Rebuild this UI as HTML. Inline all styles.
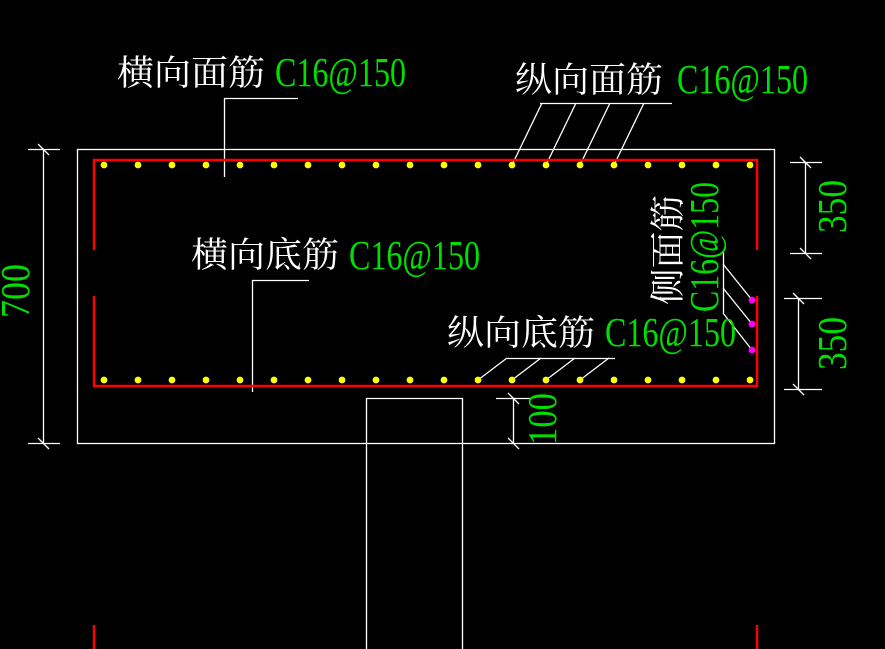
<!DOCTYPE html>
<html><head><meta charset="utf-8"><style>
html,body{margin:0;padding:0;background:#000;}
svg{display:block;}
.w{fill:#fff;font-family:"Liberation Serif","Noto Serif CJK SC","Noto Sans CJK SC",serif;font-size:35px;}
.g{fill:#00e000;font-family:"Liberation Serif",serif;font-size:41px;}
</style></head><body>
<svg width="885" height="649" viewBox="0 0 885 649" xmlns="http://www.w3.org/2000/svg">
<g stroke="#fff" stroke-width="1.3" fill="none">
<rect x="77.5" y="149.5" width="697" height="294"/>
<polyline points="366.5,649 366.5,398.5 462.5,398.5 462.5,649"/>
<line x1="43.5" y1="149" x2="43.5" y2="443"/>
<line x1="28" y1="149.5" x2="60" y2="149.5"/>
<line x1="28" y1="443.5" x2="60" y2="443.5"/>
<line x1="38" y1="144" x2="49" y2="155"/><line x1="38" y1="438" x2="49" y2="449"/>
<line x1="805.5" y1="162" x2="805.5" y2="253"/>
<line x1="790" y1="162.5" x2="822" y2="162.5"/>
<line x1="790" y1="253.5" x2="822" y2="253.5"/>
<line x1="800" y1="157" x2="811" y2="168"/><line x1="800" y1="248" x2="811" y2="259"/>
<line x1="798.5" y1="298" x2="798.5" y2="389"/>
<line x1="784" y1="298.5" x2="822" y2="298.5"/>
<line x1="784" y1="389.5" x2="822" y2="389.5"/>
<line x1="793" y1="293" x2="804" y2="304"/><line x1="793" y1="384" x2="804" y2="395"/>
<line x1="513.5" y1="398" x2="513.5" y2="443"/>
<line x1="496" y1="398.5" x2="530" y2="398.5"/>
<line x1="508" y1="393" x2="519" y2="404"/><line x1="508" y1="438" x2="519" y2="449"/>
<polyline points="224.5,177 224.5,98.5 298,98.5"/>
<polyline points="252.5,392 252.5,280.5 309,280.5"/>
<line x1="540" y1="103.5" x2="672" y2="103.5"/>
<line x1="512" y1="165" x2="542" y2="103"/><line x1="546" y1="165" x2="576" y2="103"/>
<line x1="580" y1="165" x2="610" y2="103"/><line x1="614" y1="165" x2="644" y2="103"/>
<line x1="507" y1="358.5" x2="615" y2="358.5"/>
<line x1="478" y1="380" x2="507" y2="358"/><line x1="512" y1="380" x2="541" y2="358"/>
<line x1="546" y1="380" x2="575" y2="358"/><line x1="580" y1="380" x2="609" y2="358"/>
<line x1="723.5" y1="252" x2="723.5" y2="313"/>
<line x1="723" y1="264" x2="752" y2="300"/><line x1="723" y1="288" x2="752" y2="324"/><line x1="723" y1="313" x2="752" y2="350"/>
</g>
<g stroke="#f00" stroke-width="2.5" fill="none">
<polyline points="94,250 94,160 757,160 757,250"/>
<polyline points="94,296 94,386 757,386 757,296"/>
<line x1="94" y1="625" x2="94" y2="649"/><line x1="757" y1="625" x2="757" y2="649"/>
</g>
<g fill="#ff0">
<circle cx="104" cy="165" r="3.4"/><circle cx="138" cy="165" r="3.4"/><circle cx="172" cy="165" r="3.4"/><circle cx="206" cy="165" r="3.4"/><circle cx="240" cy="165" r="3.4"/><circle cx="274" cy="165" r="3.4"/><circle cx="308" cy="165" r="3.4"/><circle cx="342" cy="165" r="3.4"/><circle cx="376" cy="165" r="3.4"/><circle cx="410" cy="165" r="3.4"/><circle cx="444" cy="165" r="3.4"/><circle cx="478" cy="165" r="3.4"/><circle cx="512" cy="165" r="3.4"/><circle cx="546" cy="165" r="3.4"/><circle cx="580" cy="165" r="3.4"/><circle cx="614" cy="165" r="3.4"/><circle cx="648" cy="165" r="3.4"/><circle cx="682" cy="165" r="3.4"/><circle cx="716" cy="165" r="3.4"/><circle cx="750" cy="165" r="3.4"/>
<circle cx="104" cy="380" r="3.4"/><circle cx="138" cy="380" r="3.4"/><circle cx="172" cy="380" r="3.4"/><circle cx="206" cy="380" r="3.4"/><circle cx="240" cy="380" r="3.4"/><circle cx="274" cy="380" r="3.4"/><circle cx="308" cy="380" r="3.4"/><circle cx="342" cy="380" r="3.4"/><circle cx="376" cy="380" r="3.4"/><circle cx="410" cy="380" r="3.4"/><circle cx="444" cy="380" r="3.4"/><circle cx="478" cy="380" r="3.4"/><circle cx="512" cy="380" r="3.4"/><circle cx="546" cy="380" r="3.4"/><circle cx="580" cy="380" r="3.4"/><circle cx="614" cy="380" r="3.4"/><circle cx="648" cy="380" r="3.4"/><circle cx="682" cy="380" r="3.4"/><circle cx="716" cy="380" r="3.4"/><circle cx="750" cy="380" r="3.4"/>
</g>
<g fill="#f0f"><circle cx="752" cy="300" r="3.4"/><circle cx="752" cy="324" r="3.4"/><circle cx="752" cy="350" r="3.4"/></g>
<text class="w" x="117" y="85" textLength="148" lengthAdjust="spacingAndGlyphs">横向面筋</text>
<text class="g" x="275" y="86" textLength="131" lengthAdjust="spacingAndGlyphs">C16@150</text>
<text class="w" x="515" y="92" textLength="148" lengthAdjust="spacingAndGlyphs">纵向面筋</text>
<text class="g" x="677" y="93" textLength="131" lengthAdjust="spacingAndGlyphs">C16@150</text>
<text class="w" x="191" y="267" textLength="148" lengthAdjust="spacingAndGlyphs">横向底筋</text>
<text class="g" x="349" y="269" textLength="131" lengthAdjust="spacingAndGlyphs">C16@150</text>
<text class="w" x="447" y="345" textLength="148" lengthAdjust="spacingAndGlyphs">纵向底筋</text>
<text class="g" x="605" y="346" textLength="131" lengthAdjust="spacingAndGlyphs">C16@150</text>
<text class="w" transform="translate(680,305) rotate(-90)" textLength="110" lengthAdjust="spacingAndGlyphs">侧面筋</text>
<text class="g" transform="translate(718,312) rotate(-90)" textLength="130" lengthAdjust="spacingAndGlyphs">C16@150</text>
<text class="g" transform="translate(29,318) rotate(-90)" textLength="54" lengthAdjust="spacingAndGlyphs">700</text>
<text class="g" transform="translate(846,233) rotate(-90)" textLength="53" lengthAdjust="spacingAndGlyphs">350</text>
<text class="g" transform="translate(846,370) rotate(-90)" textLength="53" lengthAdjust="spacingAndGlyphs">350</text>
<text class="g" transform="translate(556,445) rotate(-90)" textLength="52" lengthAdjust="spacingAndGlyphs">100</text>
</svg>
</body></html>
